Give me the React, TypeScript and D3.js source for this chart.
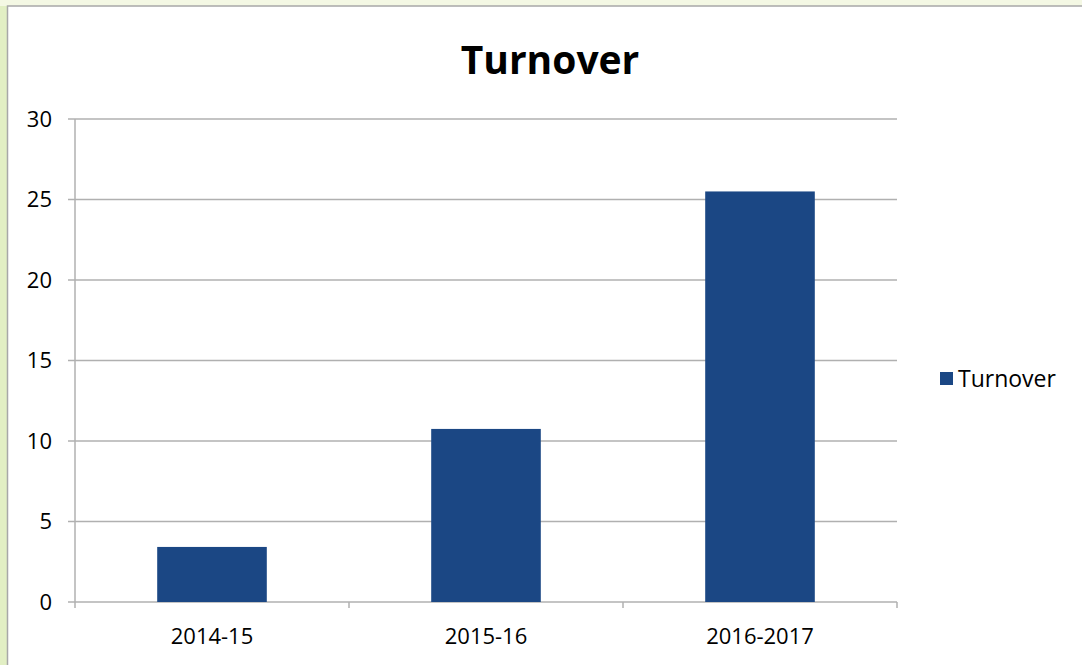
import React from "react";
import * as d3 from "d3";

const categories = ["2014-15", "2015-16", "2016-2017"];
const turnover = [3.42, 10.75, 25.5];
const yTicks = [0, 5, 10, 15, 20, 25, 30];
const seriesName = "Turnover";
const title = "Turnover";

const W = 1082;
const H = 665;
const FONT = "'Open Sans', 'Noto Sans', sans-serif";

export default function App() {
  const left = 75, right = 897, top = 119, bottom = 602;
  const x = d3.scaleBand<string>().domain(categories).range([left, right]).paddingInner(0.6).paddingOuter(0.3);
  const xOuter = d3.scaleBand<string>().domain(categories).range([left, right]);
  const y = d3.scaleLinear().domain([0, 30]).range([bottom, top]);
  const barColor = "#1b4784";
  const grid = "#b0b0b0";
  return (
    <svg width={W} height={H} style={{ position: "absolute", left: 0, top: 0 }} fontFamily={FONT}>
      <rect x={0} y={0} width={W} height={H} fill="#e2efc4" />
      <rect x={0} y={0} width={W} height={6} fill="#f4f8e4" />
      <rect x={7.5} y={6} width={W} height={H} fill="#ffffff" stroke="#a8a8a8" strokeWidth={1.5} />
      <text x={550} y={74} textAnchor="middle" fontSize={39} fontWeight="bold" fill="#000">{title}</text>
      {yTicks.map((t) => (
        <g key={t}>
          <line x1={left - 7} x2={right} y1={y(t)} y2={y(t)} stroke={grid} strokeWidth={1.5} />
          <text x={52} y={y(t)} dy="0.35em" textAnchor="end" fontSize={22} fill="#000">{t}</text>
        </g>
      ))}
      <line x1={left} x2={left} y1={top} y2={bottom + 6} stroke={grid} strokeWidth={1.5} />
      {categories.map((c) => (
        <line key={c} x1={(xOuter(c) ?? 0) + xOuter.bandwidth()} x2={(xOuter(c) ?? 0) + xOuter.bandwidth()} y1={bottom} y2={bottom + 6} stroke={grid} strokeWidth={1.5} />
      ))}
      {categories.map((c, i) => (
        <rect key={c} x={x(c)} y={y(turnover[i])} width={x.bandwidth()} height={bottom - y(turnover[i])} fill={barColor} />
      ))}
      {categories.map((c) => (
        <text key={c} x={(xOuter(c) ?? 0) + xOuter.bandwidth() / 2} y={644} textAnchor="middle" fontSize={22} fill="#000">{c}</text>
      ))}
      <rect x={940} y={372} width={13} height={13} fill={barColor} />
      <text x={958} y={379} dy="0.35em" fontSize={23} fill="#000">{seriesName}</text>
    </svg>
  );
}
